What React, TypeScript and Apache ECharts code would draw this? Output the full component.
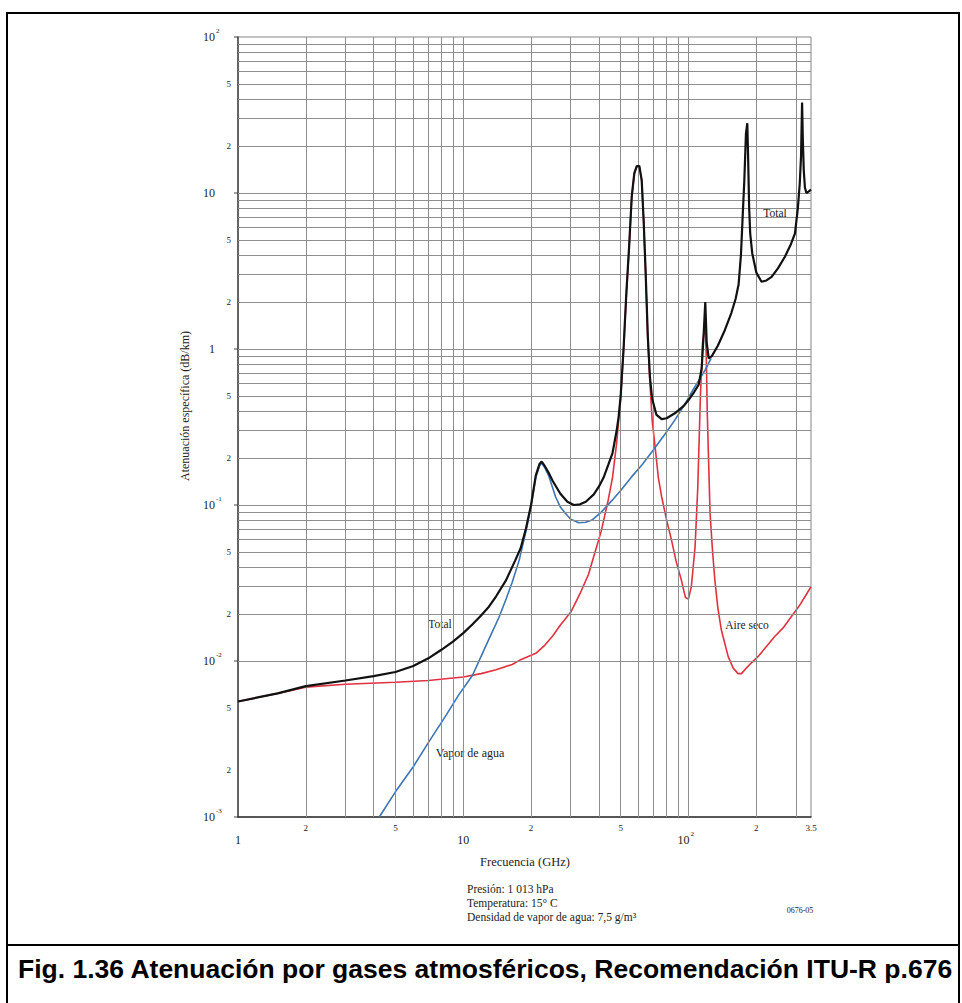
import React, { useEffect, useRef } from "react";
import * as echarts from "echarts";

// ---- Data (frequency GHz, attenuation dB/km) ----
const totalFreq = [1, 1.5, 2, 3, 4, 5, 6, 7, 8, 9, 10, 11, 12, 13, 14, 15.5, 17, 18, 19, 20, 21, 21.8, 22.3, 23, 24, 25, 27, 29, 31, 33, 35, 38, 40, 42, 44, 46, 48, 49, 50, 51.5, 53, 54.5, 56, 57.5, 59, 60.5, 62, 63.3, 64.5, 66, 67.5, 69, 72, 76, 80, 87, 95, 100, 106, 111, 114.5, 117, 118.75, 120.5, 123, 127, 135, 145, 155, 162, 167, 171, 174, 177, 180, 182.5, 184, 186, 188, 192, 200, 211, 222, 234, 250, 268, 285, 297, 306, 312, 316, 319.5, 322, 325, 329, 334, 341, 350];
const totalAtten = [0.0055, 0.0062, 0.0069, 0.0075, 0.008, 0.0085, 0.0093, 0.0104, 0.0118, 0.0133, 0.0151, 0.0172, 0.0196, 0.0223, 0.026, 0.033, 0.044, 0.053, 0.071, 0.1, 0.155, 0.183, 0.19, 0.178, 0.16, 0.142, 0.118, 0.105, 0.1, 0.101, 0.105, 0.117, 0.131, 0.15, 0.18, 0.215, 0.3, 0.37, 0.5, 1.0, 2.3, 4.5, 9.5, 13.4, 14.9, 14.9, 12.1, 6.5, 3.2, 1.2, 0.65, 0.48, 0.38, 0.355, 0.36, 0.387, 0.43, 0.47, 0.53, 0.59, 0.75, 1.3, 2.0, 1.1, 0.87, 0.9, 1.05, 1.32, 1.7, 2.1, 2.6, 4.0, 7.0, 12, 24, 28, 17, 8, 5.5, 4.1, 3.1, 2.7, 2.75, 2.9, 3.3, 3.9, 4.7, 5.5, 8.0, 11.5, 17, 38, 22, 14, 10.8, 10.0, 10.2, 10.5];

const dryFreq = [1, 1.5, 2, 3, 5, 7, 10, 12, 14, 16.5, 18, 21, 23, 25, 27, 30, 33, 36, 38, 41, 44, 46, 48, 49, 50, 51.5, 53, 54.5, 56, 57.5, 59, 60.5, 62, 63.3, 64.5, 66, 67.5, 69, 71, 73.5, 76, 80, 84, 88, 93, 97, 100, 103, 107, 110, 113, 115.5, 117.5, 118.75, 120, 121.2, 124.7, 128, 131, 135, 140, 150, 158, 166, 172, 178, 190, 204, 220, 241, 265, 286, 310, 330, 350];
const dryAtten = [0.0055, 0.0062, 0.0068, 0.0071, 0.0073, 0.0075, 0.0079, 0.0083, 0.0088, 0.0095, 0.0102, 0.0112, 0.0126, 0.0145, 0.017, 0.0205, 0.027, 0.036, 0.047, 0.068, 0.107, 0.15, 0.25, 0.35, 0.48, 0.98, 2.2, 4.4, 9.4, 13.3, 14.8, 14.8, 12.0, 6.4, 3.1, 1.15, 0.6, 0.35, 0.24, 0.15, 0.113, 0.08, 0.06, 0.044, 0.033, 0.0255, 0.025, 0.03, 0.054, 0.13, 0.5, 1.1, 1.3, 1.35, 0.9, 0.39, 0.0885, 0.05, 0.033, 0.022, 0.0158, 0.0107, 0.009, 0.0083, 0.0083, 0.0088, 0.0097, 0.0107, 0.0122, 0.0143, 0.0165, 0.0192, 0.0225, 0.026, 0.03];

const vaporFreq = [4.24, 5, 6, 7, 8.4, 9.5, 11, 12.6, 14.4, 15.5, 16.5, 17.7, 19, 20, 21, 21.8, 22.3, 23, 24, 25.7, 27, 28.4, 30, 32.6, 35, 37.3, 41, 45.8, 50, 56, 62, 69, 78, 87, 97, 105, 112, 119, 126];
const vaporAtten = [0.001, 0.00145, 0.0021, 0.003, 0.0045, 0.006, 0.0081, 0.0125, 0.019, 0.025, 0.032, 0.044, 0.068, 0.098, 0.15, 0.178, 0.186, 0.174, 0.153, 0.113, 0.097, 0.0885, 0.081, 0.077, 0.0775, 0.08, 0.09, 0.107, 0.124, 0.152, 0.18, 0.22, 0.28, 0.35, 0.45, 0.55, 0.64, 0.74, 0.87];

// ---- Grid lines and tick labels ----
const xGridValues = [2, 3, 4, 5, 6, 7, 8, 9, 10, 20, 30, 40, 50, 60, 70, 80, 90, 100, 200, 300];
const yGridValues = [
  0.002, 0.003, 0.004, 0.005, 0.006, 0.007, 0.008, 0.009,
  0.01, 0.02, 0.03, 0.04, 0.05, 0.06, 0.07, 0.08, 0.09,
  0.1, 0.2, 0.3, 0.4, 0.5, 0.6, 0.7, 0.8, 0.9,
  1, 2, 3, 4, 5, 6, 7, 8, 9,
  10, 20, 30, 40, 50, 60, 70, 80, 90,
];
const xMinorTicks = [2, 5, 20, 50, 200, 350];
const xMinorTickText = ["2", "5", "2", "5", "2", "3.5"];
const xDecadeTicks = [1, 10, 100];
const xDecadeBase = ["1", "10", "10"];
const xDecadeExp = ["", "", "2"];
const yMinorTicks = [0.002, 0.005, 0.02, 0.05, 0.2, 0.5, 2, 5, 20, 50];
const yMinorTickText = ["2", "5", "2", "5", "2", "5", "2", "5", "2", "5"];
const yDecadeTicks = [0.001, 0.01, 0.1, 1, 10, 100];
const yDecadeBase = ["10", "10", "10", "1", "10", "10"];
const yDecadeExp = ["-3", "-2", "-1", "", "", "2"];

const SERIF = '"Liberation Serif", "DejaVu Serif", "Times New Roman", serif';
const SANS = '"Liberation Sans", Arial, sans-serif';
const TXT = "#222222";

export default function App() {
  const ref = useRef<HTMLDivElement>(null);

  useEffect(() => {
    const el = ref.current as HTMLDivElement;
    const chart = echarts.init(el, null, { renderer: "svg", width: 962, height: 1003 });
    const pair = (fs: number[], as: number[]) => fs.map((f, i) => [f, as[i]]);
    const gridLineData = [
      ...xGridValues.map((v) => ({ xAxis: v })),
      ...yGridValues.map((v) => ({ yAxis: v })),
    ];
    const axisCommon = {
      type: "log",
      logBase: 10,
      axisTick: { show: false },
      axisLabel: { show: false },
      splitLine: { show: false },
      minorTick: { show: false },
      minorSplitLine: { show: false },
    };

    chart.setOption({
      animation: false,
      backgroundColor: "#ffffff",
      grid: {
        left: 238,
        top: 37,
        width: 573,
        height: 780,
        show: true,
        borderColor: "#858585",
        borderWidth: 1,
        containLabel: false,
      },
      xAxis: {
        ...axisCommon,
        min: 1,
        max: 350,
        axisLine: { show: true, onZero: false, lineStyle: { color: "#333", width: 1.5 } },
      },
      yAxis: {
        ...axisCommon,
        min: 0.001,
        max: 100,
        axisLine: { show: true, onZero: false, lineStyle: { color: "#444", width: 1.5 } },
      },
      series: [
        {
          type: "line",
          data: [[1, 0.001]],
          symbol: "none",
          silent: true,
          z: 1,
          lineStyle: { width: 0 },
          markLine: {
            silent: true,
            symbol: ["none", "none"],
            label: { show: false },
            emphasis: { disabled: true },
            lineStyle: { color: "#8e8e8e", width: 1, type: "solid" },
            data: gridLineData,
          },
        },
        {
          name: "Aire seco",
          type: "line",
          data: pair(dryFreq, dryAtten),
          symbol: "none",
          silent: true,
          z: 3,
          lineStyle: { color: "#e0313f", width: 1.6 },
        },
        {
          name: "Vapor de agua",
          type: "line",
          data: pair(vaporFreq, vaporAtten),
          symbol: "none",
          silent: true,
          z: 3,
          lineStyle: { color: "#3d74b3", width: 1.6 },
        },
        {
          name: "Total",
          type: "line",
          data: pair(totalFreq, totalAtten),
          symbol: "none",
          silent: true,
          z: 5,
          lineStyle: { color: "#111111", width: 2.2 },
        },
      ],
    });

    const px = (v: number) => chart.convertToPixel({ xAxisIndex: 0 }, v) as number;
    const py = (v: number) => chart.convertToPixel({ yAxisIndex: 0 }, v) as number;

    const txt = (text: string, x: number, y: number, size: number, align = "center", extra: any = {}) => ({
      type: "text",
      x,
      y,
      silent: true,
      ...extra,
      style: {
        text,
        font: `${size}px ${SERIF}`,
        fill: TXT,
        textAlign: align,
        textVerticalAlign: "middle",
      },
    });

    const elements: any[] = [];
    // frame
    const frame = { stroke: "#000", lineWidth: 2 };
    elements.push({ type: "line", shape: { x1: 6, y1: 13, x2: 960, y2: 13 }, style: frame });
    elements.push({ type: "line", shape: { x1: 7, y1: 13, x2: 7, y2: 1003 }, style: frame });
    elements.push({ type: "line", shape: { x1: 959, y1: 13, x2: 959, y2: 1003 }, style: frame });
    elements.push({ type: "line", shape: { x1: 7, y1: 945, x2: 959, y2: 945 }, style: frame });

    // x minor labels
    xMinorTicks.forEach((v, i) => elements.push(txt(xMinorTickText[i], px(v), 828, 9)));
    // x decade labels
    xDecadeTicks.forEach((v, i) => {
      const x = px(v);
      if (xDecadeExp[i]) {
        elements.push(txt(xDecadeBase[i], x + 1, 840, 12, "right"));
        elements.push(txt(xDecadeExp[i], x + 2, 834, 7, "left"));
      } else {
        elements.push(txt(xDecadeBase[i], x, 840, 12));
      }
    });
    // y minor labels
    yMinorTicks.forEach((v, i) => elements.push(txt(yMinorTickText[i], 231, py(v), 9, "right")));
    // y decade labels + small ticks
    yDecadeTicks.forEach((v, i) => {
      const y = py(v);
      elements.push(txt(yDecadeBase[i], 215, y, 12, "right"));
      if (yDecadeExp[i]) elements.push(txt(yDecadeExp[i], 216, y - 6, 7, "left"));
      elements.push({ type: "line", shape: { x1: 234, y1: y, x2: 238, y2: y }, style: { stroke: "#444", lineWidth: 1 } });
    });

    // axis titles
    elements.push(txt("Atenuación específica (dB/km)", 185, 406, 12, "center", { rotation: Math.PI / 2 }));
    elements.push(txt("Frecuencia (GHz)", 525, 862, 12.5));

    // curve labels
    elements.push(txt("Total", 775, 213, 11.5));
    elements.push(txt("Total", 440, 624, 11.5));
    elements.push(txt("Vapor de agua", 470, 753, 12));
    elements.push(txt("Aire seco", 747, 625, 11.5));

    // notes
    elements.push(txt("Presión: 1 013 hPa", 467, 889, 11.5, "left"));
    elements.push(txt("Temperatura: 15° C", 467, 903, 11.5, "left"));
    elements.push(txt("Densidad de vapor de agua: 7,5 g/m³", 467, 917, 11.5, "left"));
    elements.push(txt("0676-05", 800, 910, 8));

    // caption
    elements.push({
      type: "text",
      x: 18,
      y: 969,
      silent: true,
      style: {
        text: "Fig. 1.36 Atenuación por gases atmosféricos, Recomendación ITU-R p.676",
        font: `bold 26.5px ${SANS}`,
        fill: "#000",
        textAlign: "left",
        textVerticalAlign: "middle",
      },
    });

    chart.setOption({ graphic: { elements } });

    return () => chart.dispose();
  }, []);

  return (
    <div style={{ position: "absolute", left: 0, top: 0, width: 962, height: 1003, background: "#fff" }}>
      <div ref={ref} style={{ width: 962, height: 1003 }} />
    </div>
  );
}
